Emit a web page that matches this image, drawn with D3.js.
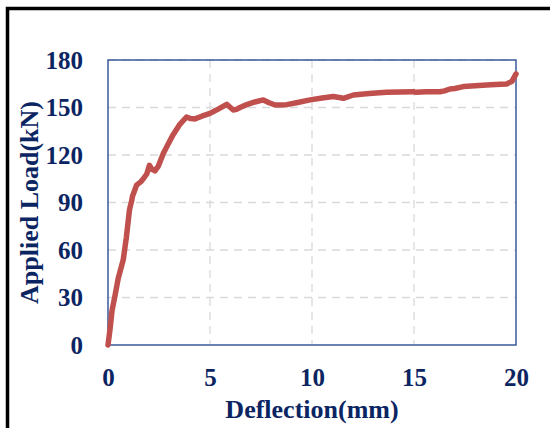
<!DOCTYPE html>
<html><head><meta charset="utf-8">
<script src="https://cdn.jsdelivr.net/npm/d3@7"></script>
<style>body{margin:0;background:#fff;} svg{display:block;}</style>
</head><body>
<script>
const deflection = [0, 0.1, 0.2, 0.34, 0.5, 0.75, 0.9, 1.05, 1.1, 1.16, 1.2, 1.32, 1.4, 1.6, 1.73, 1.9, 2.03, 2.15, 2.3, 2.47, 2.71, 2.95, 3.2, 3.5, 3.85, 4.05, 4.26, 4.6, 5.0, 5.4, 5.82, 6.0, 6.14, 6.3, 6.47, 6.8, 7.2, 7.61, 7.9, 8.19, 8.76, 9.3, 9.9, 10.5, 11.04, 11.54, 12.03, 12.8, 13.66, 14.3, 14.97, 15.1, 15.6, 16.27, 16.5, 16.76, 17.0, 17.42, 18.0, 18.56, 19.0, 19.54, 19.8, 20.0];
const load = [0, 10, 22, 31, 42, 54, 68, 85, 88, 91, 94, 98, 101, 103, 105, 108, 113.5, 111, 110, 113, 121, 127, 133, 139, 144, 143, 142.8, 144.5, 146.3, 149, 152, 150, 148.4, 148.8, 150, 151.8, 153.5, 154.8, 153, 151.6, 151.8, 153.2, 154.8, 156, 156.9, 155.8, 157.9, 158.8, 159.6, 159.8, 160, 159.6, 159.9, 160, 160.5, 161.7, 162, 163.2, 163.8, 164.2, 164.5, 164.9, 166.5, 171.2];
const xTicks = [0, 5, 10, 15, 20];
const yTicks = [0, 30, 60, 90, 120, 150, 180];
const xLabel = "Deflection(mm)";
const yLabel = "Applied Load(kN)";

const W = 550, H = 428;
const m = {left:108, top:60, right:516, bottom:345};
const textColor = "#0b2562";
const font = "'Liberation Serif','Times New Roman',serif";

const svg = d3.select("body").append("svg").attr("width", W).attr("height", H);
svg.append("rect").attr("width", W).attr("height", H).attr("fill", "#fff");
// outer frame (extends beyond right/bottom)
svg.append("rect").attr("x", 7.5).attr("y", 8.5).attr("width", W + 20).attr("height", H + 20)
  .attr("fill", "none").attr("stroke", "#000").attr("stroke-width", 3.5);

const x = d3.scaleLinear().domain([0, 20]).range([m.left, m.right]);
const y = d3.scaleLinear().domain([0, 180]).range([m.bottom, m.top]);

// gridlines
const g = svg.append("g");
g.selectAll(".vg").data(xTicks.slice(1, -1)).join("line")
  .attr("x1", d => x(d)).attr("x2", d => x(d)).attr("y1", m.top).attr("y2", m.bottom)
  .attr("stroke", "#d9d9d9").attr("stroke-width", 1.3).attr("stroke-dasharray", "8,6");
g.selectAll(".hg").data(yTicks.slice(1)).join("line")
  .attr("x1", m.left).attr("x2", m.right).attr("y1", d => y(d)).attr("y2", d => y(d))
  .attr("stroke", "#d9d9d9").attr("stroke-width", 1.3).attr("stroke-dasharray", "8,6");

// plot frame
svg.append("rect").attr("x", m.left).attr("y", m.top).attr("width", m.right - m.left).attr("height", m.bottom - m.top)
  .attr("fill", "none").attr("stroke", "#3a5a9a").attr("stroke-width", 1.5);

// axes
const xAxis = svg.append("g").attr("transform", `translate(0,${m.bottom})`)
  .call(d3.axisBottom(x).tickValues(xTicks).tickSize(0).tickPadding(23).tickFormat(d3.format("d")));
const yAxis = svg.append("g").attr("transform", `translate(${m.left},0)`)
  .call(d3.axisLeft(y).tickValues(yTicks).tickSize(0).tickPadding(25).tickFormat(d3.format("d")));
[xAxis, yAxis].forEach(a => {
  a.select(".domain").remove();
  a.selectAll("text").attr("font-family", font).attr("font-weight", "bold").attr("font-size", 25).attr("fill", textColor);
});

// line
const line = d3.line().x((d, i) => x(deflection[i])).y(d => y(d)).curve(d3.curveLinear);
svg.append("path").datum(load).attr("d", line).attr("fill", "none")
  .attr("stroke", "#c0504d").attr("stroke-width", 5.5).attr("stroke-linejoin", "round").attr("stroke-linecap", "round");

// labels
svg.append("text").attr("x", (m.left + m.right) / 2).attr("y", 418).attr("text-anchor", "middle")
  .attr("font-family", font).attr("font-weight", "bold").attr("font-size", 26).attr("fill", textColor).text(xLabel);
svg.append("text").attr("transform", `translate(38,${(m.top + m.bottom) / 2}) rotate(-90)`).attr("text-anchor", "middle")
  .attr("font-family", font).attr("font-weight", "bold").attr("font-size", 26).attr("fill", textColor).text(yLabel);
</script>
</body></html>
